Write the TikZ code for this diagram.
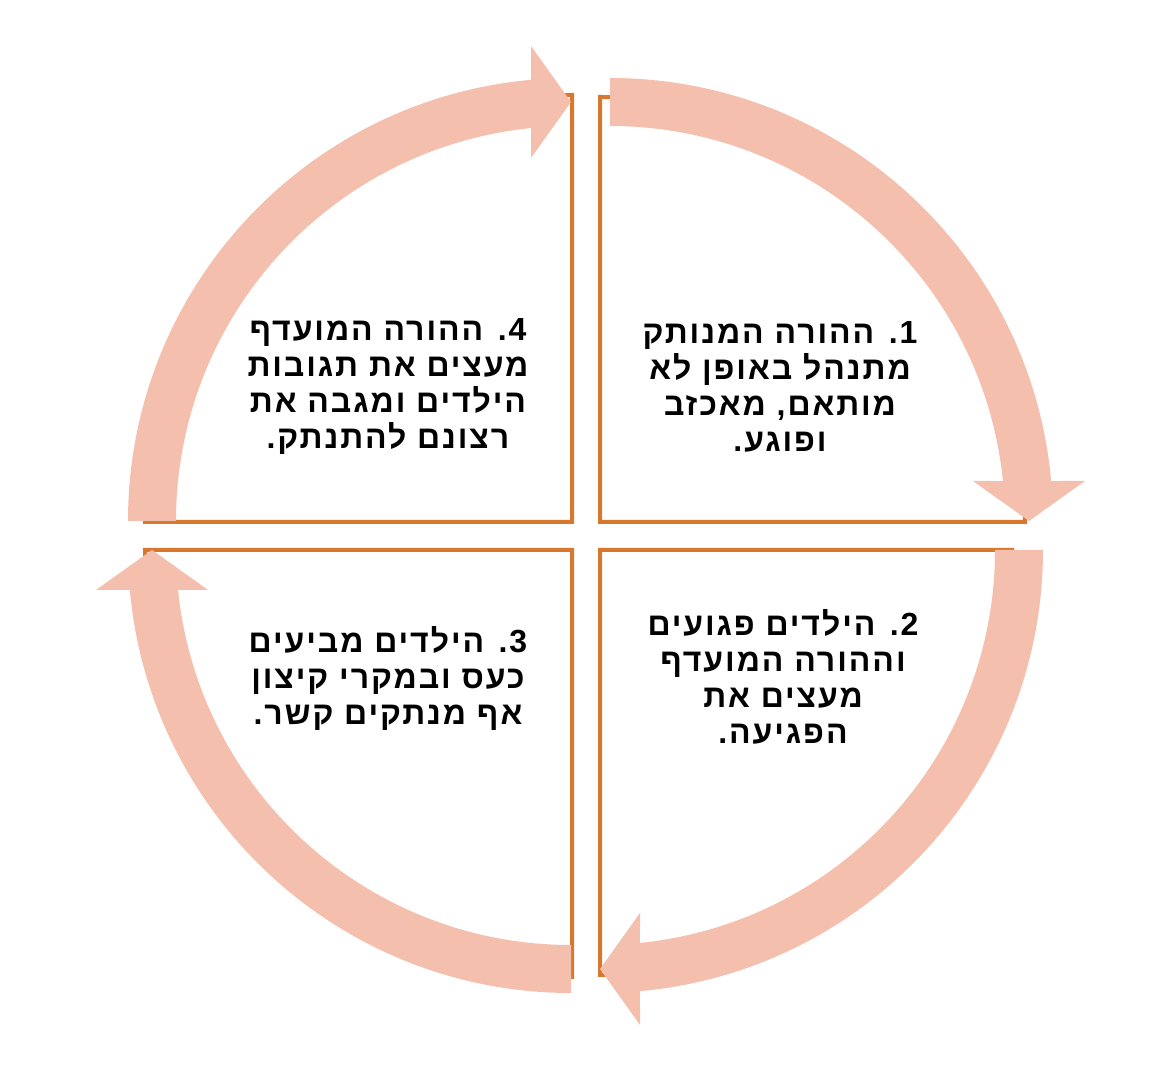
\documentclass[tikz,border=0pt]{standalone}
\usepackage{fontspec}
\newfontfamily\hebfont[Script=Hebrew,LetterSpace=6,WordSpace=1.0]{Liberation Sans}
\TeXXeTstate=1
\definecolor{arrowpeach}{HTML}{F4BFAD}
\definecolor{quadline}{HTML}{D8782F}
\begin{document}
\begin{tikzpicture}[x=0.75pt,y=0.75pt,
  quad/.style={draw=quadline, line width=3pt, fill=white, line join=miter},
  txt/.style={font=\hebfont\bfseries\fontsize{24}{27}\selectfont, align=center, text=black, inner sep=0pt},
  cyclearrow/.pic={
    \fill[arrowpeach] (90:443) arc[start angle=90,end angle=5.18,radius=443]
      -- (475,40) -- (419,0) -- (363,40) -- (5.81:395)
      arc[start angle=5.81,end angle=90,radius=395] -- cycle;
  }]
\useasboundingbox (0,0) rectangle (1156,1080);
% quadrants
\draw[quad] (600,558) coordinate (qtr) -- (600,983) arc[start angle=90,end angle=0,radius=425] -- cycle;
\draw[quad] (572,558) coordinate (qtl) -- (145,558) arc[start angle=180,end angle=90,radius=427] -- cycle;
\draw[quad] (572,530) coordinate (qbl) -- (572,103) arc[start angle=270,end angle=180,radius=427] -- cycle;
\draw[quad] (600,530) coordinate (qbr) -- (1012,530) arc[start angle=0,end angle=-90,x radius=412,y radius=425] -- cycle;
% cycle arrows
\pic (a1) at (610,559) {cyclearrow};
\pic[rotate=-90] (a2) at (600,530) {cyclearrow};
\pic[rotate=180] (a3) at (571,530) {cyclearrow};
\pic[rotate=90] (a4) at (571,559) {cyclearrow};
% texts
\node[txt] (t1) at (780,693) {\beginR 1. ההורה המנותק\endR\\ \beginR מתנהל באופן לא\endR\\ \beginR מותאם, מאכזב\endR\\ \beginR ופוגע.\endR};
\node[txt] (t2) at (783,403) {\beginR 2. הילדים פגועים\endR\\ \beginR וההורה המועדף\endR\\ \beginR מעצים את\endR\\ \beginR הפגיעה.\endR};
\node[txt] (t3) at (388,401) {\beginR 3. הילדים מביעים\endR\\ \beginR כעס ובמקרי קיצון\endR\\ \beginR אף מנתקים קשר.\endR};
\node[txt] (t4) at (388,693) {\beginR 4. ההורה המועדף\endR\\ \beginR מעצים את תגובות\endR\\ \beginR הילדים ומגבה את\endR\\ \beginR רצונם להתנתק.\endR};
\end{tikzpicture}
\end{document}
